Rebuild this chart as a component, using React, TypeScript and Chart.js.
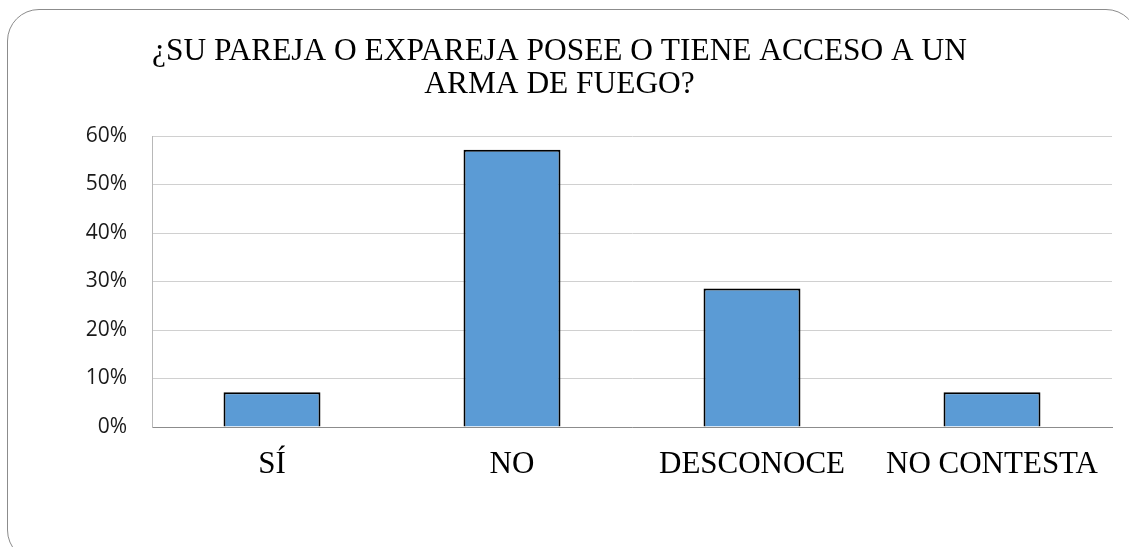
import React, { useEffect, useRef } from "react";
import { Chart, registerables } from "chart.js";

Chart.register(...registerables);

const categories = ["SÍ", "NO", "DESCONOCE", "NO CONTESTA"];
const values = [7.14, 57.14, 28.57, 7.14];
const titleLines = ["¿SU PAREJA O EXPAREJA POSEE O TIENE ACCESO A UN", "ARMA DE FUEGO?"];
const yTicksMax = 60;
const yTicksStep = 10;

export default function App() {
  const ref = useRef<HTMLCanvasElement | null>(null);

  useEffect(() => {
    if (!ref.current) return;
    const chart = new Chart(ref.current, {
      type: "bar",
      data: {
        labels: categories,
        datasets: [
          {
            data: values,
            backgroundColor: "#5B9BD5",
            borderColor: "#000000",
            borderWidth: 2,
            barPercentage: 0.404,
            categoryPercentage: 1,
          },
        ],
      },
      options: {
        responsive: false,
        animation: false,
        layout: { padding: { left: 0, right: 26, top: 0, bottom: 0 } },
        plugins: {
          legend: { display: false },
          tooltip: { enabled: false },
          title: {
            display: true,
            text: titleLines,
            color: "#000000",
            font: { family: "'Liberation Serif', 'Times New Roman', serif", size: 31.4, weight: "normal", lineHeight: 33 / 31.4 },
            padding: { top: 26, bottom: 35 },
          },
        },
        scales: {
          x: {
            grid: { display: false, drawTicks: false },
            border: { display: true, color: "#8c8c8c", width: 1 },
            ticks: {
              color: "#000000",
              font: { family: "'Liberation Serif', 'Times New Roman', serif", size: 31 },
              padding: 19,
              maxRotation: 0,
              autoSkip: false,
            },
            afterFit: (s: any) => {
              s.height = 135;
            },
          },
          y: {
            min: 0,
            max: yTicksMax,
            grid: { color: "#d0d0d0", lineWidth: 1, drawTicks: false },
            border: { display: true, color: "#b8b8b8", width: 1 },
            ticks: {
              stepSize: yTicksStep,
              color: "#1a1a1a",
              font: { family: "'Open Sans', sans-serif", size: 21 },
              padding: 25,
              callback: (v: any) => `${v}%`,
            },
            afterFit: (s: any) => {
              s.width = 145;
            },
          },
        },
      },
    });
    return () => chart.destroy();
  }, []);

  return (
    <div style={{ position: "absolute", left: 0, top: 0, width: 1129, height: 547, overflow: "hidden", background: "#ffffff" }}>
      <div
        style={{
          position: "absolute",
          left: 7,
          top: 9,
          width: 1131,
          height: 553,
          boxSizing: "border-box",
          border: "1.5px solid #8c8c8c",
          borderRadius: 32,
        }}
      />
      <canvas
        ref={ref}
        width={1131}
        height={553}
        style={{ position: "absolute", left: 7, top: 9, width: 1131, height: 553 }}
      />
    </div>
  );
}
